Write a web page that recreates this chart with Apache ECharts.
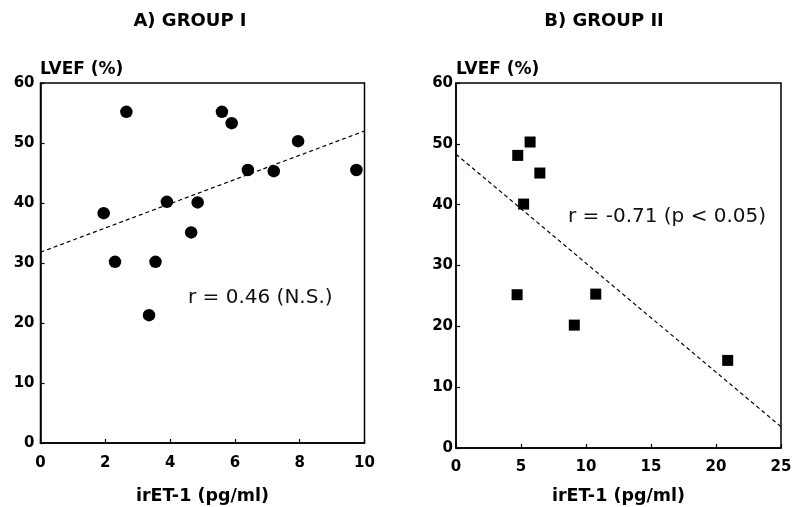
<!DOCTYPE html>
<html>
<head>
<meta charset="utf-8">
<script src="https://cdn.jsdelivr.net/npm/echarts@6/dist/echarts.min.js"></script>
<style>html,body{margin:0;padding:0;background:#fff}#c{width:795px;height:507px}</style>
</head>
<body>
<div id="c"></div>
<script>
// ---- data ----
const panelTitles = ['A) GROUP I', 'B) GROUP II'];
const yName = 'LVEF (%)';
const xName = 'irET-1 (pg/ml)';
const annotations = ['r = 0.46 (N.S.)', 'r = -0.71 (p < 0.05)'];

const groupIX = [1.95, 2.3, 2.65, 3.35, 3.55, 3.9, 4.65, 4.85, 5.6, 5.9, 6.4, 7.2, 7.95, 9.75];
const groupIY = [38.3, 30.2, 55.2, 21.3, 30.2, 40.2, 35.1, 40.1, 55.2, 53.3, 45.5, 45.3, 50.3, 45.5];

const groupIIX = [4.7, 4.75, 5.2, 5.7, 6.45, 9.1, 10.75, 20.9];
const groupIIY = [25.2, 48.1, 40.1, 50.3, 45.2, 20.2, 25.3, 14.4];

const fitIX = [0, 10];
const fitIY = [31.8, 52.0];
const fitIIX = [0, 25];
const fitIIY = [48.3, 3.5];

const yTicks = [0, 10, 20, 30, 40, 50, 60];
const xTicksI = [0, 2, 4, 6, 8, 10];
const xTicksII = [0, 5, 10, 15, 20, 25];

// ---- build ----
const zip = (a, b) => a.map((v, i) => [v, b[i]]);
const FONT = 'DejaVu Sans';
const tickLabel = { fontFamily: FONT, fontWeight: 'bold', fontSize: 15, color: '#000' };
const axisLine = { show: true, lineStyle: { color: '#000', width: 1.5 } };
const axisTick = { show: true, inside: true, length: 4, lineStyle: { color: '#000', width: 1.2 } };

function xAxis(idx, ticks, margin, gap) {
  return {
    type: 'value', gridIndex: idx,
    min: ticks[0], max: ticks[ticks.length - 1], interval: ticks[1] - ticks[0],
    axisLine, axisTick, splitLine: { show: false },
    axisLabel: Object.assign({ margin }, tickLabel),
    name: xName, nameLocation: 'middle', nameGap: gap,
    nameTextStyle: { fontFamily: FONT, fontWeight: 'bold', fontSize: 17.5, color: '#000' }
  };
}
function yAxis(idx, margin) {
  return {
    type: 'value', gridIndex: idx,
    min: yTicks[0], max: yTicks[yTicks.length - 1], interval: yTicks[1] - yTicks[0],
    axisLine, axisTick, splitLine: { show: false },
    axisLabel: Object.assign({ margin }, tickLabel)
  };
}

const chart = echarts.init(document.getElementById('c'), null, { renderer: 'canvas' });
chart.setOption({
  backgroundColor: '#fff',
  animation: false,
  grid: [
    { left: 40.5, top: 83, width: 324, height: 360, show: true, borderColor: '#000', borderWidth: 1.5, backgroundColor: 'transparent', containLabel: false, outerBoundsMode: 'none' },
    { left: 456, top: 83, width: 325, height: 365, show: true, borderColor: '#000', borderWidth: 1.5, backgroundColor: 'transparent', containLabel: false, outerBoundsMode: 'none' }
  ],
  xAxis: [xAxis(0, xTicksI, 13, 44), xAxis(1, xTicksII, 12, 39)],
  yAxis: [yAxis(0, 6), yAxis(1, 3)],
  graphic: [
    { type: 'text', x: 190, y: 21, style: { text: panelTitles[0], fontFamily: FONT, fontWeight: 'bold', fontSize: 18, fill: '#000', align: 'center', verticalAlign: 'middle' } },
    { type: 'text', x: 604, y: 21, style: { text: panelTitles[1], fontFamily: FONT, fontWeight: 'bold', fontSize: 18, fill: '#000', align: 'center', verticalAlign: 'middle' } },
    { type: 'text', x: 40, y: 70, style: { text: yName, fontFamily: FONT, fontWeight: 'bold', fontSize: 17, fill: '#000', align: 'left', verticalAlign: 'middle' } },
    { type: 'text', x: 456, y: 70, style: { text: yName, fontFamily: FONT, fontWeight: 'bold', fontSize: 17, fill: '#000', align: 'left', verticalAlign: 'middle' } },
    { type: 'text', x: 188, y: 298, style: { text: annotations[0], fontFamily: FONT, fontSize: 20, fill: '#111', align: 'left', verticalAlign: 'middle' } },
    { type: 'text', x: 568, y: 217, style: { text: annotations[1], fontFamily: FONT, fontSize: 20, fill: '#111', align: 'left', verticalAlign: 'middle' } }
  ],
  series: [
    { type: 'line', xAxisIndex: 0, yAxisIndex: 0, data: zip(fitIX, fitIY), symbol: 'none', silent: true,
      lineStyle: { color: '#000', width: 1.2, type: [4, 3] } },
    { type: 'line', xAxisIndex: 1, yAxisIndex: 1, data: zip(fitIIX, fitIIY), symbol: 'none', silent: true,
      lineStyle: { color: '#000', width: 1.2, type: [4, 3] } },
    { type: 'scatter', xAxisIndex: 0, yAxisIndex: 0, data: zip(groupIX, groupIY), symbol: 'circle', symbolSize: 12.5,
      itemStyle: { color: '#000', opacity: 1 } },
    { type: 'scatter', xAxisIndex: 1, yAxisIndex: 1, data: zip(groupIIX, groupIIY), symbol: 'rect', symbolSize: 11,
      itemStyle: { color: '#000', opacity: 1 } }
  ]
});
</script>
</body>
</html>
